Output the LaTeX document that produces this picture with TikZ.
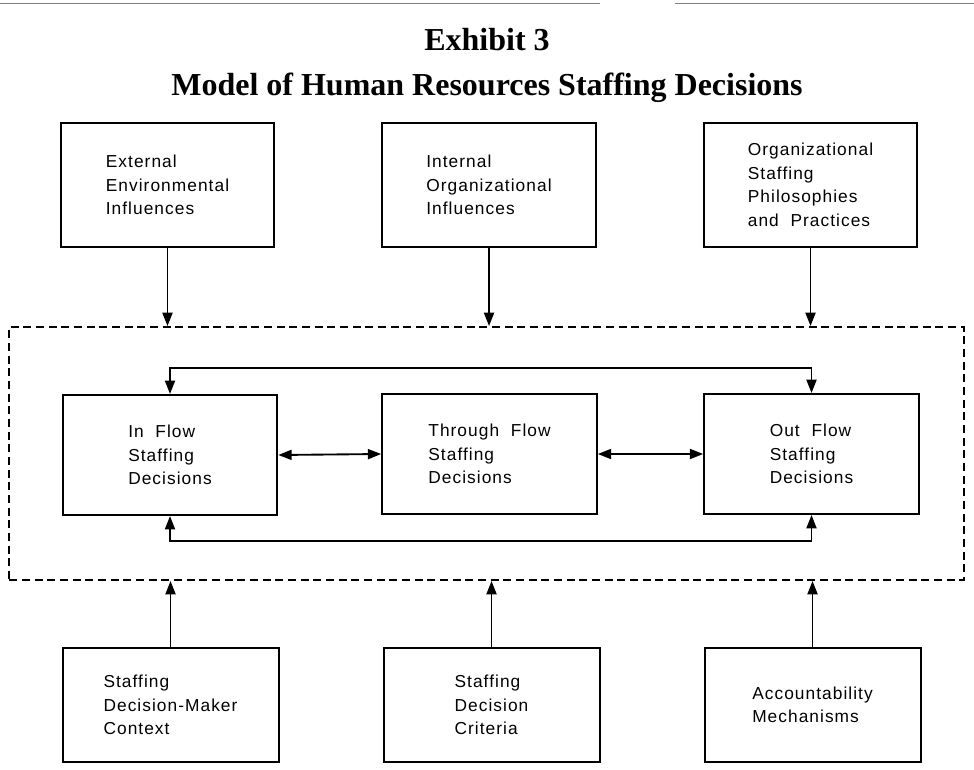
\documentclass[tikz,border=0pt]{standalone}
\usepackage{fontspec}
\setmainfont{Liberation Serif}
\newfontfamily\boxfont[LetterSpace=6]{Liberation Sans}
\usetikzlibrary{arrows.meta}

\begin{document}
\begin{tikzpicture}[x=0.75pt,y=0.75pt,yscale=-1,xscale=1,
    factorbox/.style={draw,line width=1.5pt,align=left,inner sep=0pt,
      font=\boxfont\fontsize{13}{17.6}\selectfont},
    topbox/.style={factorbox,minimum width=160pt,minimum height=93pt},
    flowbox/.style={factorbox,minimum width=161pt,minimum height=90pt},
    botbox/.style={factorbox,minimum width=162pt,minimum height=85.5pt},
    outerframe/.style={draw,dash pattern=on 6pt off 3.5pt,line width=1.2pt,
      minimum width=716pt,minimum height=190pt},
    arr/.style={line width=1.4pt,-{Triangle[length=10pt,width=7.5pt]}},
    dblarr/.style={line width=1.4pt,{Triangle[length=10pt,width=7.5pt]}-{Triangle[length=10pt,width=7.5pt]}},
    heading/.style={font=\bfseries\fontsize{24}{28}\selectfont}]
    \useasboundingbox (0,0) rectangle (974,770);

    %Straight Lines (top rule)
    \draw [gray,line width=0.7pt] (0,3) -- (600,3) ;
    \draw [gray,line width=0.7pt] (675,3) -- (974,3) ;

    % Text Node
    \node [heading] (exhibit) at (487,40) {Exhibit 3};
    % Text Node
    \node [heading] (model) at (487,88) {Model of Human Resources Staffing Decisions};

    % Top boxes
    \node [topbox] (external) at (167.5,185) {External\\Environmental\\Influences};
    \node [topbox] (internal) at (489,185) {Internal\\Organizational\\Influences};
    \node [topbox] (philo) at (810.5,185) {Organizational\\Staffing\\Philosophies\\and~~Practices};

    % Dashed frame
    \node [outerframe] (frame) at (486.5,453.5) {};

    % Flow boxes
    \node [flowbox] (inflow) at (170,455) {In~~Flow\\Staffing\\Decisions};
    \node [flowbox] (thruflow) at (489.5,454) {Through~~Flow\\Staffing\\Decisions};
    \node [flowbox] (outflow) at (811.5,454) {Out~~Flow\\Staffing\\Decisions};

    % Bottom boxes
    \node [botbox] (context) at (170.5,705) {Staffing\\Decision-Maker\\Context};
    \node [botbox] (criteria) at (491.5,705) {Staffing\\Decision\\Criteria};
    \node [botbox] (account) at (812.5,705) {Accountability\\Mechanisms};

    %Straight Lines
    \draw [arr] (external.south) -- (external.south |- frame.north) ;
    \draw [arr] (internal.south) -- (internal.south |- frame.north) ;
    \draw [arr] (philo.south) -- (philo.south |- frame.north) ;

    %Straight Lines
    \draw [arr] (context.north) -- (context.north |- frame.south) ;
    \draw [arr] (criteria.north) -- (criteria.north |- frame.south) ;
    \draw [arr] (account.north) -- (account.north |- frame.south) ;

    %Straight Lines
    \draw [dblarr] (inflow.east) -- (thruflow.west) ;
    \draw [dblarr] (thruflow.east) -- (outflow.west) ;

    % Loops
    \coordinate (looptop) at (489,368);
    \coordinate (loopbot) at (489,541);
    \draw [dblarr] (inflow.north) |- (looptop) -| (outflow.north) ;
    \draw [dblarr] (inflow.south) |- (loopbot) -| (outflow.south) ;
\end{tikzpicture}
\end{document}
